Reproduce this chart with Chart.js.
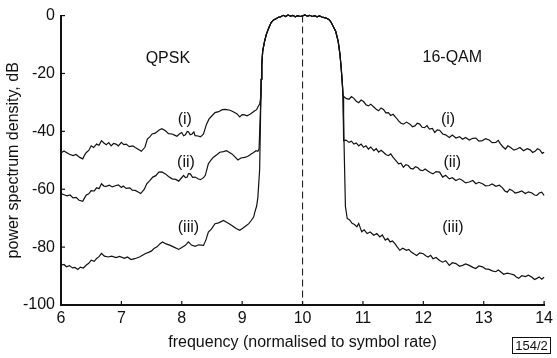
<!DOCTYPE html>
<html>
<head>
<meta charset="utf-8">
<script src="https://cdn.jsdelivr.net/npm/chart.js@4.4.1/dist/chart.umd.min.js"></script>
<style>
html,body{margin:0;padding:0;background:#fff;}
#wrap{width:557px;height:358px;position:relative;}
</style>
</head>
<body>
<div id="wrap"><canvas id="c" width="557" height="358"></canvas></div>
<script>
// ---- data ----
const xTicks = [6, 7, 8, 9, 10, 11, 12, 13, 14];
const yTicks = [0, -20, -40, -60, -80, -100];

// QPSK side (left), curve (i)
const leftFreqI = [6.01,6.05,6.09,6.14,6.2,6.25,6.31,6.36,6.39,6.42,6.46,6.5,6.54,6.59,6.63,6.67,6.71,6.75,6.79,6.83,6.87,6.91,6.95,7.0,7.04,7.08,7.13,7.19,7.23,7.27,7.33,7.39,7.43,7.47,7.51,7.56,7.62,7.67,7.73,7.78,7.84,7.88,7.92,7.96,8.0,8.03,8.06,8.09,8.11,8.14,8.17,8.2,8.22,8.27,8.31,8.36,8.41,8.45,8.5,8.55,8.61,8.67,8.72,8.8,8.86,8.91,8.96,9.0,9.04,9.08,9.13,9.17,9.21,9.24,9.26,9.29];
const leftPsdI  = [-47.3,-46.8,-47.3,-47.9,-48.4,-48.0,-49,-49.5,-48.2,-47.3,-46.6,-45,-45.6,-44.4,-44.8,-43.2,-44.0,-44.6,-43.9,-45,-44.2,-44.4,-45.0,-43.8,-44.6,-44.4,-45.3,-45,-45.6,-46.1,-46.9,-45.5,-42.7,-41.9,-40.9,-40.6,-39.6,-39.1,-39.8,-40.8,-40.9,-41.3,-41.7,-40.9,-40.4,-41.5,-41.2,-40.0,-40.1,-41.2,-40.9,-40.2,-41.5,-41.6,-41.9,-40.9,-37.5,-35.8,-34.6,-33.5,-33.2,-32.5,-32.4,-32.7,-33.3,-33.9,-35,-34.2,-34.3,-34.6,-34.1,-33.5,-32.9,-32.5,-31.6,-30.6];
// curve (ii)
const leftFreqII = [6.0,6.05,6.1,6.15,6.2,6.25,6.3,6.36,6.39,6.42,6.46,6.5,6.55,6.59,6.63,6.67,6.71,6.75,6.8,6.85,6.9,6.95,7.0,7.03,7.08,7.14,7.18,7.23,7.27,7.32,7.38,7.42,7.47,7.52,7.57,7.62,7.67,7.73,7.78,7.84,7.9,7.95,7.99,8.03,8.06,8.09,8.11,8.14,8.18,8.22,8.27,8.31,8.36,8.39,8.44,8.48,8.52,8.58,8.63,8.69,8.74,8.79,8.83,8.88,8.93,8.98,9.04,9.09,9.15,9.19,9.23,9.26,9.28];
const leftPsdII  = [-61.5,-61.9,-62.3,-62.0,-63,-62.8,-63.8,-64.2,-63.0,-62,-61.6,-60.5,-60.6,-59.5,-59.8,-58.1,-58.9,-59,-58.6,-59.2,-58.8,-58.5,-59.4,-58.9,-59.7,-59.5,-60.3,-60.4,-60.9,-61.5,-60,-58.1,-57.0,-55.8,-55.3,-54.1,-54.0,-54.7,-55.6,-56.4,-56.6,-57.2,-56.2,-55.2,-56.0,-55.8,-54.6,-54.7,-55.9,-55.8,-56.4,-56.7,-56.0,-55.2,-51.2,-50.0,-49,-48.1,-47.2,-47.0,-46.7,-47.3,-47.8,-48.8,-49.9,-49.2,-49,-48.7,-47.8,-47.3,-46.7,-46.9,-46.1];
// curve (iii)
const leftFreqIII = [6.0,6.05,6.09,6.14,6.19,6.23,6.28,6.32,6.37,6.42,6.46,6.5,6.55,6.59,6.63,6.67,6.72,6.78,6.84,6.91,6.97,7.05,7.1,7.16,7.22,7.3,7.35,7.4,7.45,7.5,7.54,7.59,7.64,7.68,7.74,7.81,7.87,7.95,8.0,8.06,8.11,8.16,8.22,8.28,8.36,8.4,8.44,8.49,8.55,8.61,8.69,8.75,8.83,8.9,8.96,9.01,9.07,9.11,9.15,9.19,9.21,9.24,9.26,9.29];
const leftPsdIII  = [-86.2,-86.0,-86.8,-86.4,-87.2,-87.0,-87.7,-86.9,-87.2,-86.2,-85.6,-84.5,-84.9,-83.9,-83.3,-82.2,-83.1,-83.4,-83.1,-83.6,-83.2,-83.9,-83.4,-84.3,-84.0,-83.4,-82.8,-82.2,-81.8,-81.3,-80.5,-79.9,-78.8,-78.2,-78.9,-79.4,-80.0,-80.8,-80.1,-79.4,-78.2,-79.3,-79.7,-79.2,-79.4,-77.5,-74.8,-73.8,-71.9,-71.6,-70.8,-71.5,-72.5,-73.6,-74.2,-73.5,-72.5,-71.9,-70.8,-69.6,-67.9,-65.8,-62.8,-53];

// shared passband (rise, flat top, fall)
const passFreq = [9.31,9.315,9.325,9.34,9.37,9.4,9.44,9.48,9.52,9.56,9.6,9.64,9.68,9.72,9.76,9.8,9.84,9.88,9.92,9.96,10.0,10.04,10.08,10.12,10.16,10.2,10.24,10.28,10.32,10.36,10.4,10.44,10.47,10.5,10.55,10.59,10.62,10.64,10.66,10.67];
const passPsd  = [-28,-22,-17,-12.3,-9,-6.5,-4.3,-2.4,-1.5,-1.1,-0.6,-0.4,0.1,-0.3,0.2,-0.2,0.1,-0.4,0,-0.3,-0.1,0.2,-0.2,0.1,-0.3,0,-0.4,-0.1,-0.5,-0.7,-0.9,-1.4,-2.2,-3.4,-5.5,-8.9,-13.5,-18.1,-23.8,-27.8];

// 16-QAM side (right), curve (i)
const rightFreqI = [10.68,10.72,10.77,10.81,10.85,10.89,10.93,10.97,11.01,11.05,11.09,11.13,11.18,11.22,11.26,11.3,11.34,11.38,11.42,11.46,11.5,11.55,11.59,11.63,11.67,11.72,11.78,11.82,11.86,11.9,11.94,11.98,12.02,12.06,12.1,12.15,12.19,12.23,12.27,12.32,12.37,12.43,12.48,12.54,12.6,12.65,12.7,12.76,12.82,12.87,12.92,12.98,13.03,13.09,13.14,13.2,13.24,13.28,13.32,13.36,13.4,13.44,13.5,13.55,13.6,13.66,13.72,13.77,13.81,13.85,13.89,13.93,13.97,14.0];
const rightPsdI  = [-27.8,-28.6,-28.9,-28.0,-28.6,-29.6,-30.1,-29.2,-29.7,-30.8,-31.2,-30.6,-31.6,-32.4,-32.9,-31.9,-32.4,-33.6,-33.5,-34.5,-34.1,-35.3,-36.4,-37.2,-37.5,-36.8,-37.5,-38.4,-38.1,-37.2,-37.5,-38.6,-38.7,-38.0,-39.2,-39.0,-40.4,-39.5,-39.6,-40.9,-41.2,-42.1,-41.3,-42.3,-41.8,-42.7,-42.1,-43,-42.4,-42.3,-43.4,-43.2,-42.5,-43,-43.9,-43.8,-43.1,-44.4,-45.4,-46.1,-45.0,-45.5,-46.5,-46.1,-45.6,-46.7,-46.0,-46.4,-47.3,-46.9,-46.0,-46.4,-47.6,-47.2];
// curve (ii)
const rightFreqII = [10.68,10.72,10.77,10.81,10.85,10.89,10.93,10.97,11.01,11.05,11.09,11.13,11.18,11.22,11.26,11.3,11.34,11.38,11.42,11.46,11.5,11.55,11.59,11.63,11.67,11.71,11.75,11.79,11.83,11.87,11.91,11.95,11.99,12.03,12.08,12.12,12.16,12.21,12.27,12.32,12.37,12.43,12.48,12.54,12.6,12.65,12.7,12.76,12.82,12.87,12.92,12.98,13.03,13.09,13.14,13.2,13.26,13.31,13.35,13.39,13.43,13.47,13.52,13.58,13.63,13.69,13.74,13.8,13.84,13.88,13.92,13.96,14.0];
const rightPsdII  = [-43.2,-43.0,-43.8,-43.4,-44.4,-44.0,-45,-44.4,-45.5,-45.0,-46.1,-45.4,-46.7,-46.0,-47.2,-46.5,-47.2,-48.0,-48.4,-47.8,-49,-50.2,-51.2,-51.0,-52.4,-51.5,-51.8,-52.8,-53,-52.2,-52.6,-53.4,-53.6,-53.0,-53.8,-54.3,-54.7,-53.9,-54.1,-55.8,-55.2,-56.4,-56.0,-57,-56.4,-57,-57.8,-57.5,-57.0,-58.1,-57.6,-58.1,-58.8,-58.7,-58.2,-59,-58.6,-59.5,-60.6,-61,-60.0,-60.4,-61.3,-61,-60.6,-61.5,-60.9,-61.3,-62.0,-62.1,-61.3,-61,-62.1];
// curve (iii)
const rightFreqIII = [10.71,10.74,10.78,10.82,10.86,10.9,10.93,10.96,10.98,11.02,11.07,11.12,11.18,11.23,11.28,11.32,11.37,11.41,11.45,11.49,11.53,11.57,11.61,11.66,11.72,11.76,11.8,11.85,11.89,11.94,12.0,12.04,12.08,12.12,12.16,12.21,12.27,12.32,12.37,12.43,12.48,12.54,12.6,12.65,12.7,12.76,12.82,12.87,12.92,12.98,13.03,13.09,13.14,13.2,13.24,13.28,13.33,13.39,13.45,13.5,13.54,13.58,13.63,13.69,13.74,13.8,13.84,13.88,13.92,13.96,14.0];
const rightPsdIII  = [-66,-70.1,-70.6,-71.8,-72.2,-73,-71.8,-73.6,-74.7,-74.0,-75.3,-74.8,-75.9,-75.3,-76.5,-75.8,-77.6,-77.0,-78.2,-77.9,-78.8,-80.0,-81.1,-80.4,-81.1,-80.8,-81.7,-82.4,-82.9,-82.0,-82.3,-83.0,-83.4,-82.8,-84,-83.6,-84.6,-85.2,-84.7,-86.3,-85.4,-85.7,-86.6,-86.3,-85.8,-86.3,-87.0,-87.4,-86.5,-86.8,-87.5,-87.7,-88.2,-88.5,-87.9,-88.5,-89.4,-89,-89.3,-89.6,-90.3,-90.8,-89.9,-90.2,-89.7,-90.4,-91.2,-90.8,-90.3,-91.1,-90.4];

// centre-frequency marker
const markerFreq = [10, 10];
const markerPsd = [0, -100];

// text labels (data coordinates)
const labelTexts = ['QPSK', '16-QAM', '(i)', '(ii)', '(iii)', '(i)', '(ii)', '(iii)'];
const labelFreq  = [7.77, 12.48, 8.05, 8.07, 8.11, 12.41, 12.48, 12.49];
const labelPsd   = [-14.8, -14.4, -36.1, -50.9, -73.2, -36.1, -50.9, -73.2];

// ---- build ----
function pts(f, p) { return f.map((x, i) => ({x: x, y: p[i]})); }
function curve(lf, lp, rf, rp) {
  return pts(lf, lp).concat(pts(passFreq, passPsd), pts(rf, rp));
}
const lineStyle = {borderColor: '#111', borderWidth: 1.2, pointRadius: 0, tension: 0, fill: false, clip: 6};
const FONT = '"Liberation Sans", Arial, sans-serif';

const annot = {
  id: 'annot',
  afterDraw(chart) {
    const ctx = chart.ctx, xs = chart.scales.x, ys = chart.scales.y;
    ctx.save();
    // inward ticks
    ctx.strokeStyle = '#111'; ctx.lineWidth = 1.2;
    xTicks.forEach(v => { const px = xs.getPixelForValue(v); ctx.beginPath(); ctx.moveTo(px, ys.bottom); ctx.lineTo(px, ys.bottom - 4); ctx.stroke(); });
    yTicks.forEach(v => { const py = ys.getPixelForValue(v); ctx.beginPath(); ctx.moveTo(xs.left, py); ctx.lineTo(xs.left + 4, py); ctx.stroke(); });
    // labels
    ctx.fillStyle = '#111';
    ctx.font = '16px ' + FONT;
    ctx.textAlign = 'center'; ctx.textBaseline = 'middle';
    labelTexts.forEach((t, i) => ctx.fillText(t, xs.getPixelForValue(labelFreq[i]), ys.getPixelForValue(labelPsd[i])));
    // figure number box
    ctx.font = '13px ' + FONT;
    const bx = 512, by = 337, bw = 38, bh = 16;
    ctx.lineWidth = 1; ctx.strokeRect(bx + 0.5, by + 0.5, bw, bh);
    ctx.fillText('154/2', bx + bw / 2 + 0.5, by + bh / 2 + 1);
    ctx.restore();
  }
};

new Chart(document.getElementById('c'), {
  type: 'line',
  data: {
    datasets: [
      Object.assign({label: '(i)', data: curve(leftFreqI, leftPsdI, rightFreqI, rightPsdI)}, lineStyle),
      Object.assign({label: '(ii)', data: curve(leftFreqII, leftPsdII, rightFreqII, rightPsdII)}, lineStyle),
      Object.assign({label: '(iii)', data: curve(leftFreqIII, leftPsdIII, rightFreqIII, rightPsdIII)}, lineStyle),
      {label: 'centre', data: pts(markerFreq, markerPsd), borderColor: '#222', borderWidth: 1.1, borderDash: [7, 4], pointRadius: 0}
    ]
  },
  options: {
    responsive: false,
    animation: false,
    layout: {autoPadding: false, padding: {top: 14, right: 7, left: 0, bottom: 0}},
    plugins: {legend: {display: false}, tooltip: {enabled: false}},
    scales: {
      x: {
        type: 'linear', min: 6, max: 14,
        afterFit: s => { s.height = 53; },
        afterBuildTicks: s => { s.ticks = xTicks.map(v => ({value: v})); },
        grid: {display: false, drawTicks: false},
        border: {display: true, color: '#111', width: 2},
        ticks: {color: '#111', padding: 4, font: {family: FONT, size: 16}},
        title: {display: true, text: 'frequency (normalised to symbol rate)', color: '#111', padding: {top: 0, bottom: 6}, font: {family: FONT, size: 16}}
      },
      y: {
        type: 'linear', min: -100, max: 0,
        afterFit: s => { s.width = 61; },
        afterBuildTicks: s => { s.ticks = yTicks.map(v => ({value: v})); },
        grid: {display: false, drawTicks: false},
        border: {display: true, color: '#111', width: 2},
        ticks: {color: '#111', padding: 6, font: {family: FONT, size: 16}},
        title: {display: true, text: 'power spectrum density, dB', color: '#111', padding: {top: 4, bottom: 0}, font: {family: FONT, size: 16}}
      }
    }
  },
  plugins: [annot]
});
</script>
</body>
</html>
